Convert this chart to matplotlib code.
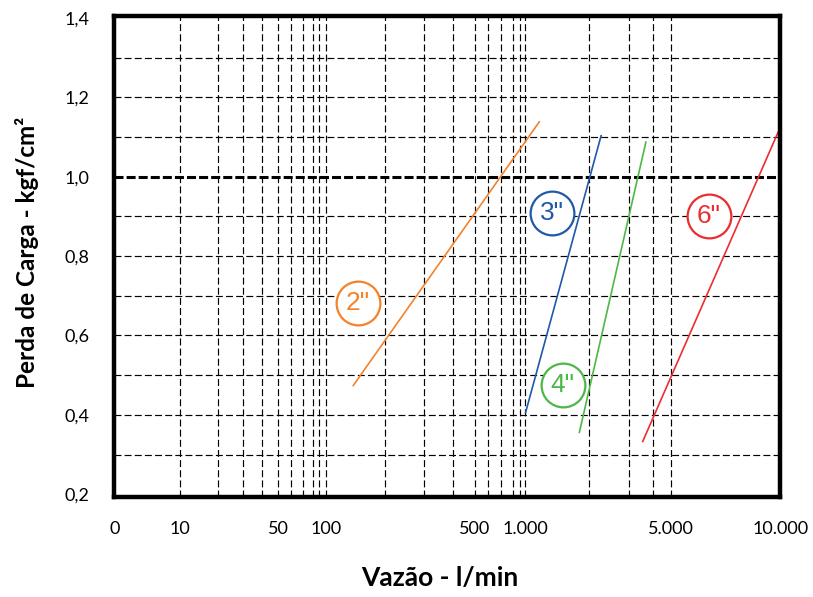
# Perda de carga x vazão - válvulas 2", 3", 4", 6"

import matplotlib
matplotlib.use('Agg')
import matplotlib.pyplot as plt
import numpy as np

plt.rcParams['font.family'] = ['Lato', 'DejaVu Sans']
plt.rcParams['lines.scale_dashes'] = False

# x axis of the chart: value -> position (the printed scale is not a pure log)
scale_vals = [0, 10, 20, 30, 40, 50, 60, 70, 80, 90, 100,
              200, 300, 400, 500, 600, 700, 800, 900, 1000,
              2000, 3000, 4000, 5000, 10000]
scale_pos = [114.5, 180.3, 218.3, 243.3, 262.3, 278.3, 291.3, 303.3, 313.3, 319.3, 326.0,
             385.3, 424.3, 453.3, 474.7, 488.3, 501.3, 513.3, 520.0, 525.3,
             589.3, 628.7, 653.3, 671.3, 780.5]

# series (vazão l/min, perda kgf/cm2)
sizes = ['2"', '3"', '4"', '6"']
flow_2 = [146, 1219]
loss_2 = [0.474, 1.138]
flow_3 = [1005, 2300]
loss_3 = [0.406, 1.103]
flow_4 = [1845, 3700]
loss_4 = [0.356, 1.087]
flow_6 = [3570, 9900]
loss_6 = [0.333, 1.113]
colors = ['#F5822A', '#2059A8', '#4DB848', '#EC2D2F']

# label bubbles
label_x = [154, 1412, 1584, 6730]
label_y = [0.681, 0.908, 0.476, 0.902]

xticks = [0, 10, 50, 100, 500, 1000, 5000, 10000]
xticklabels = ['0', '10', '50', '100', '500', '1.000', '5.000', '10.000']
xgrid = [10, 20, 30, 40, 50, 60, 70, 80, 90, 100,
         200, 300, 400, 500, 600, 700, 800, 900, 1000,
         2000, 3000, 4000, 5000]
yticks = [0.2, 0.4, 0.6, 0.8, 1.0, 1.2, 1.4]
yticklabels = ['0,2', '0,4', '0,6', '0,8', '1,0', '1,2', '1,4']
ygrid = [0.3, 0.4, 0.5, 0.6, 0.7, 0.8, 0.9, 1.1, 1.2, 1.3]


def fwd(x):
    return np.interp(x, scale_vals, scale_pos)


def inv(p):
    return np.interp(p, scale_pos, scale_vals)


fig = plt.figure(figsize=(8.13, 5.97), dpi=100)
ax = fig.add_axes([0.1408, 0.1667, 0.8192, 0.8068])
ax.set_xscale('function', functions=(fwd, inv))
ax.set_xlim(0, 10000)
ax.set_ylim(0.192, 1.405)

ax.set_xticks(xticks)
ax.set_xticklabels(xticklabels)
ax.set_yticks(yticks)
ax.set_yticklabels(yticklabels)
ax.minorticks_off()
ax.tick_params(which='both', length=0)
ax.tick_params(axis='x', pad=17, labelsize=13)
ax.tick_params(axis='y', pad=18, labelsize=13)

# dashed grid
dash = (0, (5, 2.3))
for g in xgrid:
    ax.axvline(g, color='k', lw=0.85, ls=dash, zorder=1)
for g in ygrid:
    ax.axhline(g, color='k', lw=0.85, ls=dash, zorder=1)
ax.axhline(1.0, color='k', lw=2.2, ls=(0, (6.5, 2.2)), zorder=2)

for s in ax.spines.values():
    s.set_linewidth(3.2)
    s.set_zorder(6)

flows = [flow_2, flow_3, flow_4, flow_6]
losses = [loss_2, loss_3, loss_4, loss_6]
for f, l, c in zip(flows, losses, colors):
    ax.plot(f, l, color=c, lw=1.2, zorder=3)

for name, lx, ly, c in zip(sizes, label_x, label_y, colors):
    ax.plot(lx, ly, 'o', ms=31.5, mfc='white', mec=c, mew=1.6, zorder=4)
    ax.text(lx, ly, name, color=c, fontsize=19, family='Liberation Sans',
            ha='center', va='center', zorder=5)

fig.text(0.541, 0.032, 'Vazão - l/min', fontsize=19, fontweight='bold',
         ha='center', va='center')
fig.text(0.033, 0.578, 'Perda de Carga - kgf/cm²', fontsize=17.5, fontweight='bold',
         ha='center', va='center', rotation=90)

fig.savefig('out.png', dpi=100)
